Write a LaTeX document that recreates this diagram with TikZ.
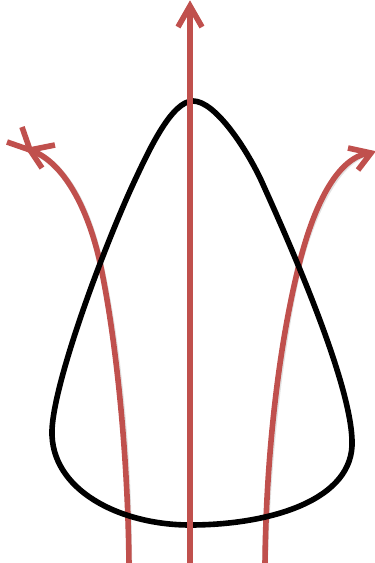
\documentclass[tikz,border=0pt]{standalone}
\definecolor{accred}{HTML}{C0504D}
\tikzset{
  redline/.style={draw=accred, line width=5.6pt, line cap=butt, line join=miter},
  redshadow/.style={draw=black!25, line width=6pt, opacity=0.45},
  blackline/.style={draw=black, line width=5.6pt, line join=round}
}
\begin{document}
\begin{tikzpicture}[x=1pt,y=-1pt]
\useasboundingbox (0,0) rectangle (375,563);
% coordinates
\coordinate (lb) at (129,565);
\coordinate (lm) at (99,258);
\coordinate (lt) at (30,150);
\coordinate (rb) at (265,565);
\coordinate (rm) at (299,265);
\coordinate (rt) at (371,153);
\coordinate (cb) at (190,565);
\coordinate (ct) at (190,6);
% shadows
\begin{scope}[shift={(1.5,1.5)}]
\path[redshadow] (lb) .. controls (128,450) and (115,330) .. (lm) .. controls (85,200) and (60,160) .. (lt);
\path[redshadow] (rb) .. controls (266,450) and (280,340) .. (rm) .. controls (315,200) and (340,155) .. (rt);
\end{scope}
% side curves
\path[redline] (lb) .. controls (128,450) and (115,330) .. (lm) .. controls (85,200) and (60,160) .. (lt);
\path[redline] (55,145) -- (lt) -- (42,168);
\path[redline] (7,142) -- (lt) -- (22,127);
\path[redline] (rb) .. controls (266,450) and (280,340) .. (rm) .. controls (315,200) and (340,155) .. (rt);
\path[redline] (348,148) -- (rt) -- (358,170);
% black teardrop
\path[blackline] (193,101) .. controls (172,101) and (150,148) .. (135,180)
  .. controls (105,244) and (54,380) .. (52,430)
  .. controls (50,490) and (120,525) .. (190,525)
  .. controls (270,525) and (355,500) .. (352,440)
  .. controls (350,380) and (290,244) .. (261,180)
  .. controls (246,148) and (215,101) .. cycle;
% center arrow
\path[redshadow, shift={(1.5,1.5)}] (cb) -- (ct);
\path[redline] (cb) -- (ct);
\path[redline] (178,27) -- (ct) -- (202,27);
\end{tikzpicture}
\end{document}
